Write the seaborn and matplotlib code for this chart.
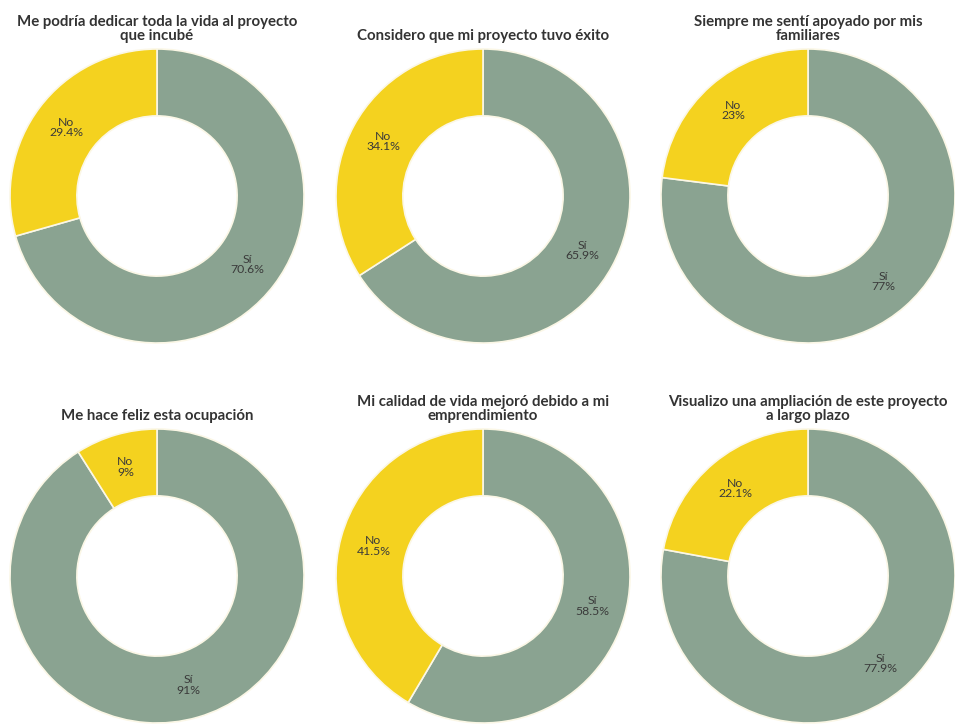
import matplotlib
matplotlib.use("Agg")
import matplotlib.pyplot as plt
import seaborn as sns

# Survey answers (percent) for each statement
titles = [
    "Me podría dedicar toda la vida al proyecto\nque incubé",
    "Considero que mi proyecto tuvo éxito",
    "Siempre me sentí apoyado por mis\nfamiliares",
    "Me hace feliz esta ocupación",
    "Mi calidad de vida mejoró debido a mi\nemprendimiento",
    "Visualizo una ampliación de este proyecto\na largo plazo",
]
categories = ["Sí", "No"]
si_values = [70.6, 65.9, 77, 91, 58.5, 77.9]
no_values = [29.4, 34.1, 23, 9, 41.5, 22.1]

sns.set_theme(style="white")
plt.rcParams["font.family"] = ["Lato", "DejaVu Sans"]

palette = sns.color_palette(["#8aa391", "#f4d21f"])
text_color = "#3a3a3a"

W, H = 955, 728
fig = plt.figure(figsize=(W / 100, H / 100), dpi=100)
fig.patch.set_facecolor("white")

R = 147          # outer radius in pixels
hole = 0.545     # inner radius relative to outer
col_x = [157, 483, 808]
row_y = [196, 576]

for i, (title, si, no) in enumerate(zip(titles, si_values, no_values)):
    cx = col_x[i % 3]
    cy = row_y[i // 3]
    ax = fig.add_axes([(cx - R) / W, (H - cy - R) / H, 2 * R / W, 2 * R / H])
    vals = [si, no]
    labels_iter = iter(f"{c}\n{v:g}%" for c, v in zip(categories, vals))
    wedges, _, autotexts = ax.pie(
        vals,
        colors=palette,
        startangle=90,
        counterclock=False,
        radius=1.0,
        autopct=lambda p, it=labels_iter: next(it),
        pctdistance=(1 + hole) / 2,
        wedgeprops=dict(width=1 - hole, edgecolor="#fbf7e6", linewidth=1.2),
        textprops=dict(color=text_color, fontsize=8.8, linespacing=0.9),
    )
    for t in autotexts:
        t.set_ha("center")
        t.set_va("center")
    ax.set_xlim(-1, 1)
    ax.set_ylim(-1, 1)
    ax.set_aspect("equal")
    ax.axis("off")
    ax.text(0, 1.04, title, ha="center", va="bottom", fontsize=10.8,
            fontweight="bold", color="#333333", linespacing=0.98,
            transform=ax.transData, clip_on=False)

fig.savefig("out.png", dpi=100, facecolor="white")
